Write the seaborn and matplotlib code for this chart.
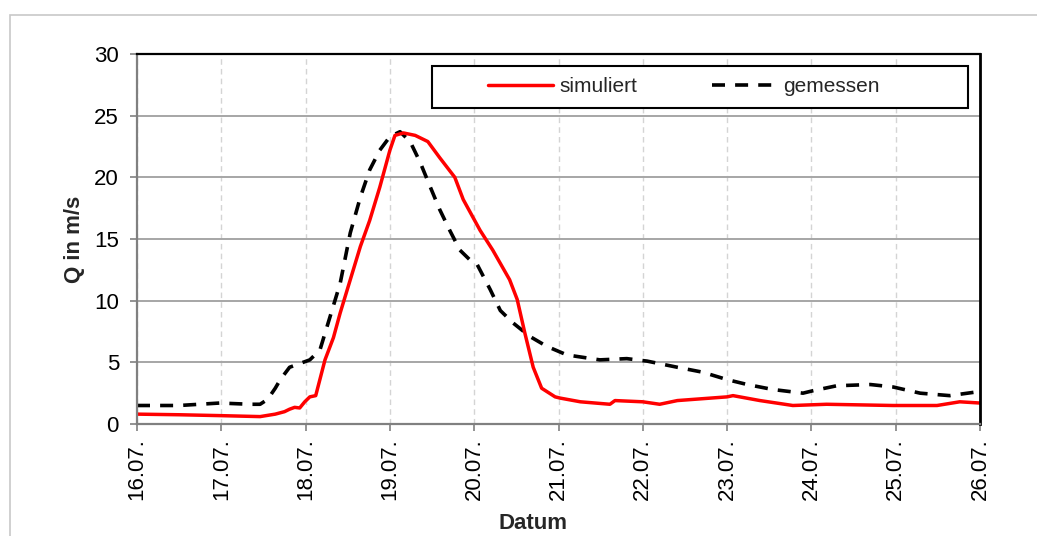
import numpy as np
import pandas as pd
import matplotlib
matplotlib.use("Agg")
import matplotlib.pyplot as plt
from matplotlib.patches import Rectangle
import seaborn as sns

# ---- data (days since 16.07.) ----
sim_days = [0.0, 0.5, 0.98, 1.46, 1.64, 1.75, 1.81, 1.87, 1.93, 1.99, 2.05, 2.12,
            2.23, 2.33, 2.41, 2.53, 2.65, 2.76, 2.88, 3.0, 3.06, 3.16, 3.30, 3.45,
            3.59, 3.77, 3.87, 4.07, 4.22, 4.42, 4.51, 4.60, 4.70, 4.80, 4.96, 5.02,
            5.26, 5.61, 5.67, 6.0, 6.2, 6.41, 7.0, 7.07, 7.39, 7.78, 8.18, 8.97,
            9.49, 9.76, 10.0]
sim_q = [0.8, 0.75, 0.68, 0.6, 0.8, 1.0, 1.2, 1.35, 1.3, 1.8, 2.2, 2.3,
         5.2, 7.0, 9.0, 11.7, 14.4, 16.5, 19.2, 22.2, 23.4, 23.6, 23.4, 22.9,
         21.6, 20.0, 18.2, 15.7, 14.1, 11.7, 10.1, 7.4, 4.6, 2.9, 2.2, 2.1,
         1.8, 1.6, 1.9, 1.8, 1.6, 1.9, 2.2, 2.3, 1.9, 1.5, 1.6, 1.5,
         1.5, 1.8, 1.7]

mess_days = [0.0, 0.5, 0.98, 1.34, 1.46, 1.55, 1.64, 1.70, 1.81, 1.93, 2.05, 2.17,
             2.29, 2.41, 2.53, 2.65, 2.76, 2.88, 3.0, 3.12, 3.24, 3.36, 3.48, 3.59,
             3.71, 3.83, 3.95, 4.03, 4.19, 4.31, 4.46, 4.66, 4.86, 5.1, 5.49, 5.81,
             6.05, 6.41, 6.71, 7.0, 7.24, 7.54, 7.9, 8.02, 8.30, 8.70, 8.97, 9.29,
             9.64, 9.96]
mess_q = [1.5, 1.5, 1.7, 1.6, 1.6, 2.0, 2.9, 3.6, 4.6, 4.9, 5.2, 6.0,
          8.7, 11.4, 15.5, 18.4, 20.6, 22.2, 23.3, 23.7, 22.9, 21.2, 19.2, 17.4,
          15.7, 14.1, 13.3, 13.0, 10.9, 9.2, 8.2, 7.1, 6.3, 5.6, 5.2, 5.3,
          5.1, 4.6, 4.2, 3.6, 3.2, 2.8, 2.5, 2.7, 3.1, 3.2, 3.0, 2.5,
          2.3, 2.6]

tick_labels = ["16.07.", "17.07.", "18.07.", "19.07.", "20.07.", "21.07.",
               "22.07.", "23.07.", "24.07.", "25.07.", "26.07."]
y_ticks = [0, 5, 10, 15, 20, 25, 30]

sim_df = pd.DataFrame({"Tag": sim_days, "Q": sim_q})
mess_df = pd.DataFrame({"Tag": mess_days, "Q": mess_q})

sns.set_theme(style="white")
plt.rcParams["font.family"] = ["Liberation Sans", "DejaVu Sans"]

W, H = 1037, 536
fig = plt.figure(figsize=(W / 100, H / 100), dpi=100)
fig.patch.set_facecolor("white")
ax = fig.add_axes([137 / W, 1 - 424 / H, (980 - 137) / W, (424 - 54) / H])

# outer border
fig.patches.append(Rectangle((10 / W, -0.2), 1.5, 1 - 15 / H + 0.2, transform=fig.transFigure,
                             fill=False, edgecolor="#c8c8c8", linewidth=1.2, zorder=0))

sns.lineplot(data=sim_df, x="Tag", y="Q", ax=ax, color="#ff0000", linewidth=2.5,
             label="simuliert", zorder=4)
sns.lineplot(data=mess_df, x="Tag", y="Q", ax=ax, color="black", linewidth=2.6,
             label="gemessen", zorder=3, dashes=False)
ax.lines[1].set_dashes((3.6, 2.8))

ax.set_xlim(0, 10)
ax.set_ylim(0, 30)
ax.set_xticks(range(len(tick_labels)))
ax.set_xticklabels(tick_labels, rotation=90, fontsize=16)
ax.set_yticks(y_ticks)
ax.set_yticklabels([str(v) for v in y_ticks], fontsize=16)

ax.grid(axis="y", color="#a6a6a6", linewidth=1.4, linestyle="-")
ax.grid(axis="x", color="#d4d4d4", linewidth=1.0, linestyle=(0, (4, 3)))
ax.set_axisbelow(True)

for s in ["left", "bottom"]:
    ax.spines[s].set_color("#808080")
    ax.spines[s].set_linewidth(1.6)
ax.spines["top"].set_color("black")
ax.spines["top"].set_linewidth(1.6)
ax.spines["right"].set_color("black")
ax.spines["right"].set_linewidth(2.0)
for s in ax.spines.values():
    s.set_zorder(6)

ax.tick_params(axis="both", which="major", direction="out", length=5, width=1.2,
               color="#808080", labelcolor="black")
ax.tick_params(axis="y", pad=8)
ax.tick_params(axis="x", pad=5, bottom=True)
ax.tick_params(axis="y", left=True)

ax.set_xlabel("Datum", fontsize=16, fontweight="bold")
ax.set_ylabel("Q in m/s", fontsize=16, fontweight="bold")
ax.xaxis.set_label_coords((533 - 137) / 843, -0.24)
ax.yaxis.set_label_coords((85 - 137) / 843, 0.5)

# legend box
ax.add_patch(Rectangle(((432 - 137) / 843, (424 - 108) / 370), (968 - 432) / 843, (108 - 66) / 370,
                       transform=ax.transAxes, facecolor="white", edgecolor="black",
                       linewidth=1.5, zorder=7))
leg = ax.legend(loc="center", bbox_to_anchor=((684 - 137) / 843, (424 - 87) / 370),
                ncol=2, frameon=False, fontsize=15, handlelength=3.1, handletextpad=0.3,
                columnspacing=3.6, borderaxespad=0)
leg.set_zorder(8)

fig.savefig("out.png", dpi=100, facecolor="white")
